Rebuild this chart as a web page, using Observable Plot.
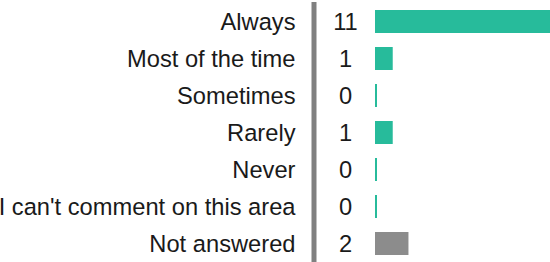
<!DOCTYPE html>
<html>
<head>
<meta charset="utf-8">
<script src="https://cdn.jsdelivr.net/npm/d3@7"></script>
<script src="https://cdn.jsdelivr.net/npm/@observablehq/plot@0.6"></script>
<style>
  html, body { margin: 0; padding: 0; background: #fff; }
  #chart svg { display: block; }
</style>
</head>
<body>
<div id="chart"></div>
<script>
const categories = ["Always", "Most of the time", "Sometimes", "Rarely", "Never", "I can't comment on this area", "Not answered"];
const counts = [11, 1, 0, 1, 0, 0, 2];
const colors = ["#27bb9b", "#27bb9b", "#27bb9b", "#27bb9b", "#27bb9b", "#27bb9b", "#8c8c8c"];

const data = categories.map((c, i) => ({category: c, count: counts[i], color: colors[i]}));

const chart = Plot.plot({
  width: 550,
  height: 262,
  marginTop: 2,
  marginBottom: 0,
  marginLeft: 0,
  marginRight: 0,
  style: {fontFamily: "Liberation Sans, Arial, sans-serif", fontSize: "23.7px", color: "#1a1a1a", background: "#fff"},
  x: {domain: [0, 11], range: [377, 550], axis: null},
  y: {domain: categories, range: [3, 262], paddingInner: 0.38, paddingOuter: 0.19, axis: null},
  marks: [
    Plot.ruleX([0], {x: d => d, dx: -63.5, stroke: "#808080", strokeWidth: 5}),
    Plot.barX(data, {y: "category", x1: 0, x2: "count", fill: "color", insetLeft: -2}),
    Plot.text(data, {y: "category", x: 0, text: "category", textAnchor: "end", dx: -82, fill: "#1a1a1a", fontSize: 23.7}),
    Plot.text(data, {y: "category", x: 0, text: d => String(d.count), textAnchor: "middle", dx: -32, fill: "#1a1a1a", fontSize: 23.7})
  ]
});
document.getElementById("chart").appendChild(chart);
</script>
</body>
</html>
